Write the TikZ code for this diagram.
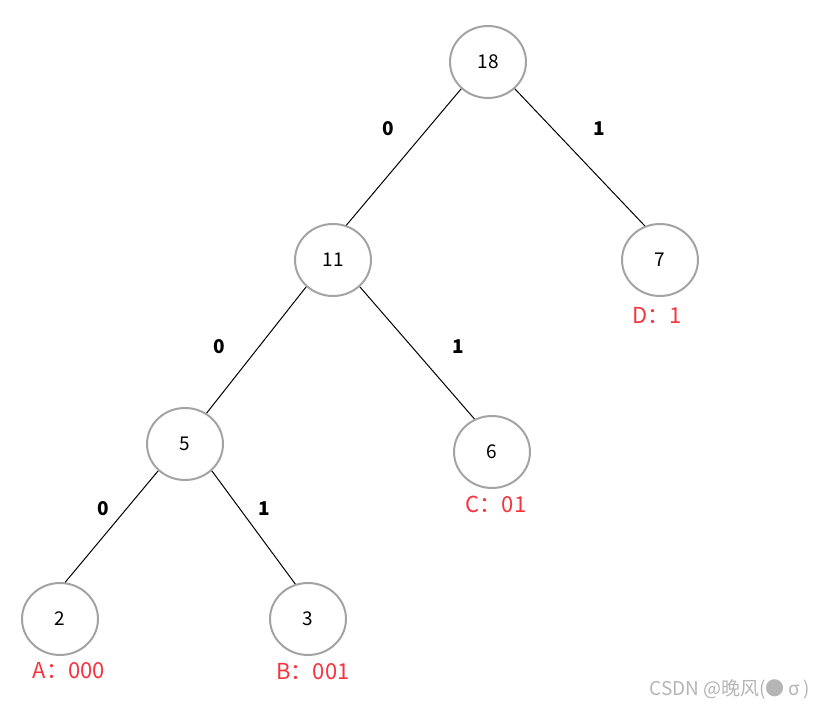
\documentclass[tikz,border=0pt]{standalone}
\usepackage{fontspec}
\setmainfont{Noto Sans}
\newfontfamily\cjk{Noto Sans CJK SC}
\usetikzlibrary{shapes.geometric}
\definecolor{ring}{HTML}{A3A3A3}
\definecolor{codered}{HTML}{F7333D}
\definecolor{mark}{HTML}{B5B5B5}
\tikzset{
  tnode/.style={ellipse, draw=ring, line width=2pt, minimum width=76pt, minimum height=72pt, inner sep=0pt, font=\cjk\fontsize{19}{22}\selectfont},
  bit/.style={font=\cjk\fontsize{19}{22}\selectfont\bfseries},
  code/.style={text=codered, font=\cjk\fontsize{22}{26}\selectfont},
  edge/.style={black, line width=1pt}}

\begin{document}
\begin{tikzpicture}[x=1pt, y=-1pt]
\useasboundingbox (0,0) rectangle (828,708);
\node[tnode] (n18) at (488,62) {18};
\node[tnode] (n11) at (333,260) {11};
\node[tnode] (n7) at (660,260) {7};
\node[tnode] (n5) at (185,444) {5};
\node[tnode] (n6) at (492,452) {6};
\node[tnode] (n2) at (60,619) {2};
\node[tnode] (n3) at (308,619) {3};
\draw[edge] (n18.225) -- (n11.69); \draw[edge] (n18.-45) -- (n7.114);
\draw[edge] (n11.225) -- (n5.55); \draw[edge] (n11.-45) -- (n6.118);
\draw[edge] (n5.225) -- (n2.82); \draw[edge] (n5.-45) -- (n3.110);
\node[bit] (b1) at (388,129) {0};
\node[bit] (b2) at (599,129) {1};
\node[bit] (b3) at (219,347) {0};
\node[bit] (b4) at (458,347) {1};
\node[bit] (b5) at (103,509) {0};
\node[bit] (b6) at (264,509) {1};
\node[code] (cd) at (657,315) {D：1};
\node[code] (cc) at (496,504) {C：01};
\node[code] (ca) at (69,671) {A：000};
\node[code] (cb) at (313,672) {B：001};
\node[text=mark, font=\cjk\fontsize{19}{22}\selectfont] (wm) at (730,689) {CSDN @晚风(●\,σ )};
\end{tikzpicture}
\end{document}
